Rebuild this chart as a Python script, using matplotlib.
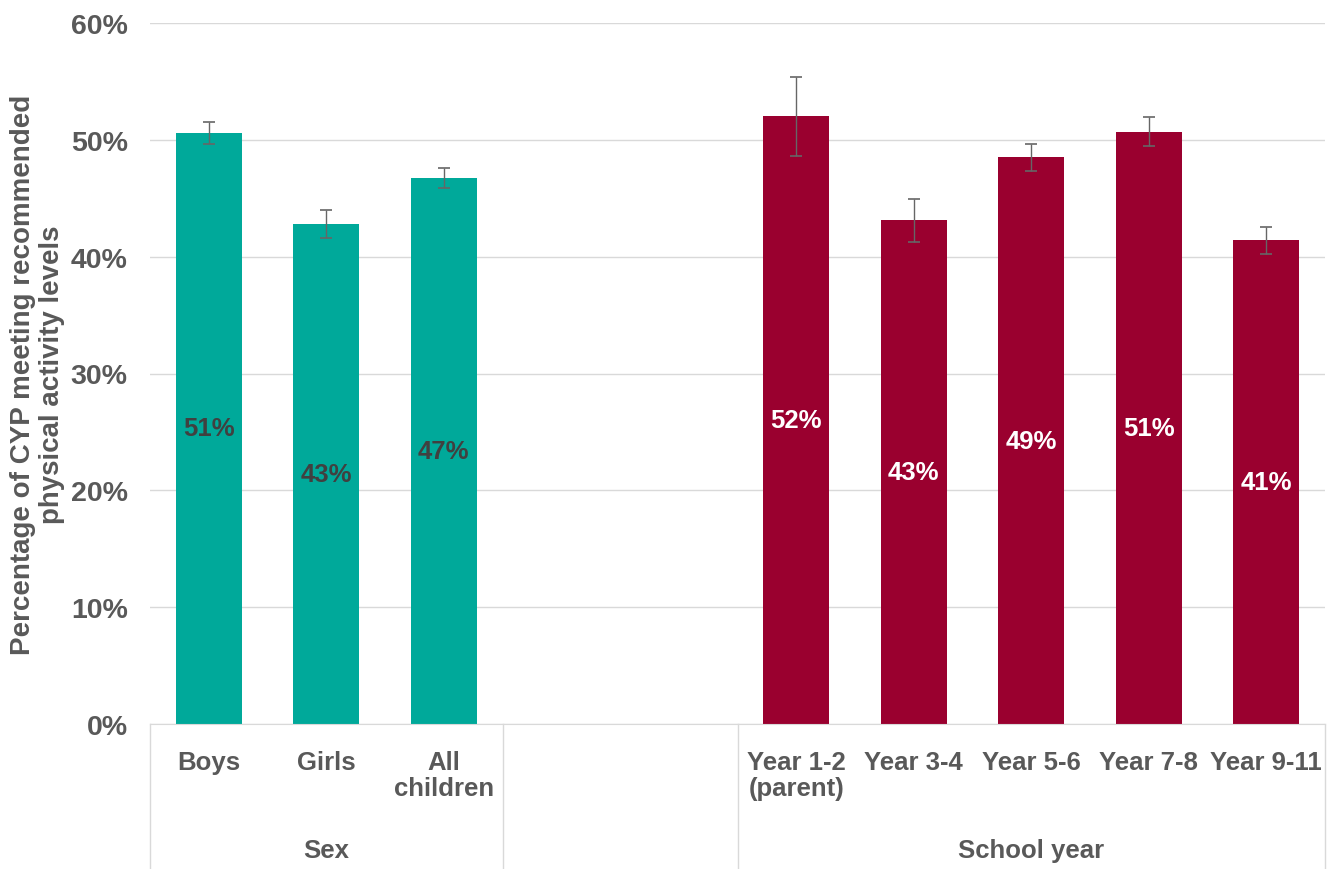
import numpy as np
import matplotlib.pyplot as plt
from matplotlib import transforms

plt.rcParams['font.family'] = ['Liberation Sans', 'DejaVu Sans']
plt.rcParams['font.weight'] = 'bold'

##########################################################
# Data
categories = ['Boys', 'Girls', 'All\nchildren',
              'Year 1-2\n(parent)', 'Year 3-4', 'Year 5-6', 'Year 7-8', 'Year 9-11']
values = [50.6, 42.8, 46.7, 52.0, 43.1, 48.5, 50.7, 41.4]
errors = [0.95, 1.2, 0.85, 3.4, 1.85, 1.15, 1.25, 1.15]
labels = ['51%', '43%', '47%', '52%', '43%', '49%', '51%', '41%']
groups = ['Sex', 'Sex', 'Sex', 'School year', 'School year', 'School year',
          'School year', 'School year']
group_names = ['Sex', 'School year']
slots = [0, 1, 2, 5, 6, 7, 8, 9]
##########################################################

teal = '#00A99A'
red = '#9A002F'
grey = '#595959'
colors = [teal if g == 'Sex' else red for g in groups]
label_colors = ['#404040' if g == 'Sex' else 'white' for g in groups]

fig = plt.figure(figsize=(13.36, 8.70), dpi=100)
ax = fig.add_axes([150 / 1336, 145 / 870, 1175 / 1336, 701 / 870])

ax.bar(slots, values, width=0.56, color=colors, zorder=2)
ax.errorbar(slots, values, yerr=errors, fmt='none', ecolor='#666666',
            elinewidth=1.0, capsize=4, capthick=1.2, zorder=3)

for x, v, lab, c in zip(slots, values, labels, label_colors):
    ax.text(x, v / 2, lab, ha='center', va='center', fontsize=18.5,
            fontweight='bold', color=c, zorder=4)

ax.set_xlim(-0.5, 9.5)
ax.set_ylim(0, 60)
ax.set_yticks(np.arange(0, 61, 10))
ax.set_yticklabels(['%d%%' % t for t in range(0, 61, 10)])
ax.yaxis.grid(True, color='#d9d9d9', linewidth=1)
ax.set_axisbelow(True)
ax.tick_params(axis='y', length=0, pad=16, labelsize=20.5, labelcolor=grey)
ax.set_xticks(slots)
ax.set_xticklabels(categories, fontsize=18.5, color=grey, linespacing=1.1)
ax.tick_params(axis='x', length=0, pad=19)

for s in ['top', 'right', 'left']:
    ax.spines[s].set_visible(False)
ax.spines['bottom'].set_color('#d9d9d9')

ax.set_ylabel('Percentage of CYP meeting recommended\nphysical activity levels',
              fontsize=20, color=grey, fontweight='bold', linespacing=1.15)
ax.yaxis.set_label_coords(-0.072, 0.5)

# group separators under the axis
trans = transforms.blended_transform_factory(ax.transData, ax.transAxes)
for xs in [-0.5, 2.5, 4.5, 9.5]:
    ax.plot([xs, xs], [0, -0.21], transform=trans, color='#d9d9d9',
            linewidth=1, clip_on=False)

ax.text(1, -0.18, group_names[0], transform=trans, ha='center', va='center',
        fontsize=18.5, color=grey, fontweight='bold')
ax.text(7, -0.18, group_names[1], transform=trans, ha='center', va='center',
        fontsize=18.5, color=grey, fontweight='bold')

plt.savefig('out.png', dpi=100)
